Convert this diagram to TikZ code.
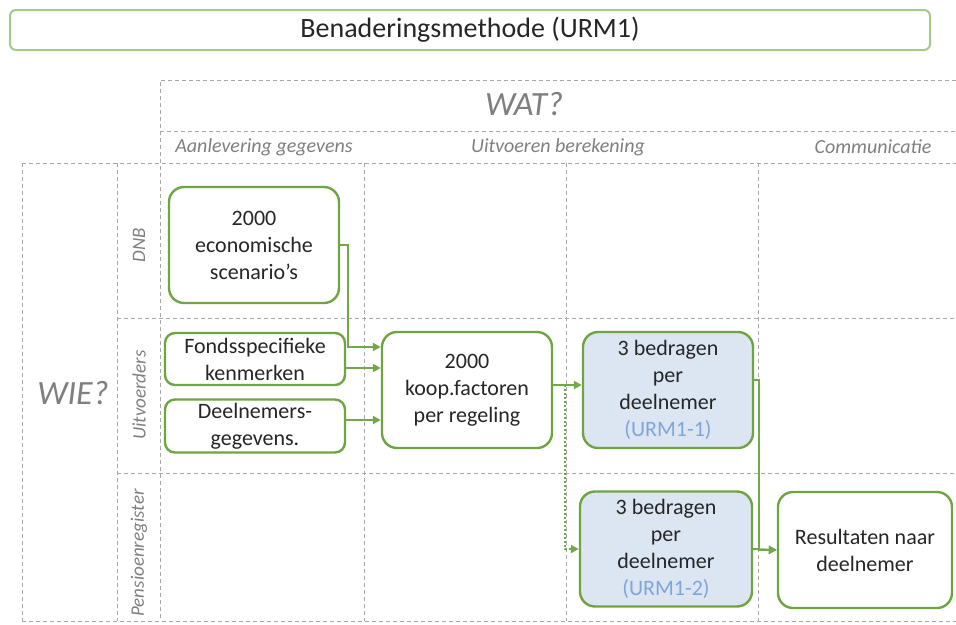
\documentclass[tikz,border=0pt]{standalone}
\usepackage{fontspec}
\setmainfont{Carlito}
\usetikzlibrary{arrows.meta}
\definecolor{gline}{HTML}{72A84A}
\definecolor{gbord}{HTML}{6FA443}
\definecolor{tbord}{HTML}{A6C88A}
\definecolor{bfill}{HTML}{DCE6F2}
\definecolor{txt}{HTML}{262626}
\definecolor{hdr}{HTML}{7F7F7F}
\definecolor{urmc}{HTML}{7FA6DA}
\definecolor{grid}{HTML}{A8A8A8}
\tikzset{
  box/.style={draw=gbord, line width=2.4pt, rounded corners=15pt, fill=white,
    align=center, text=txt, inner sep=2pt, font=\fontsize{22}{27}\selectfont},
  bluebox/.style={box, fill=bfill},
  arr/.style={draw=gline, line width=2pt, -{Triangle[width=8pt,length=8pt]}},
  dotarr/.style={draw=gline, line width=2pt, dotted, -{Triangle[width=8pt,length=8pt]}},
  gridline/.style={draw=grid, line width=0.9pt, dash pattern=on 4pt off 3pt},
  hdrbig/.style={text=hdr, font=\itshape\fontsize{34}{40}\selectfont},
  hdrsmall/.style={text=hdr, font=\itshape\fontsize{20}{24}\selectfont},
  role/.style={text=hdr, rotate=90, font=\itshape\fontsize{19}{22}\selectfont}
}
\begin{document}
\begin{tikzpicture}[x=1pt,y=-1pt]
\useasboundingbox (0,0) rectangle (956,624);
% title
\node[draw=tbord, line width=2pt, rounded corners=6pt, minimum width=920pt, minimum height=40pt,
  text=txt, font=\fontsize{28}{32}\selectfont] (title) at (470,30) {Benaderingsmethode (URM1)};
% grid
\draw[gridline] (956,80) -- (160,80) -- (160,621);
\draw[gridline] (160,131) -- (956,131);
\draw[gridline] (22,163) -- (956,163);
\draw[gridline] (22,163) -- (22,621);
\draw[gridline] (117,163) -- (117,621);
\draw[gridline] (364,163) -- (364,621);
\draw[gridline] (566,163) -- (566,621);
\draw[gridline] (758,163) -- (758,621);
\draw[gridline] (117,318) -- (956,318);
\draw[gridline] (117,473) -- (956,473);
\draw[gridline] (22,621) -- (956,621);
% headers
\node[hdrbig] (wat) at (524,104) {WAT?};
\node[hdrbig] (wie) at (73,393) {WIE?};
\node[hdrsmall] (h1) at (264,147) {Aanlevering gegevens};
\node[hdrsmall] (h2) at (558,147) {Uitvoeren berekening};
\node[hdrsmall] (h3) at (873,147) {Communicatie};
\node[role] (r1) at (139,245) {DNB};
\node[role] (r2) at (139,395) {Uitvoerders};
\node[role] (r3) at (139,553) {Pensioenregister};
% nodes
\node[box, minimum width=170pt, minimum height=116pt] (eco) at (254,245) {2000\\economische\\scenario’s};
\node[box, minimum width=180pt, minimum height=52pt, rounded corners=10pt] (fonds) at (255,359) {Fondsspecifieke\\kenmerken};
\node[box, minimum width=180pt, minimum height=53pt, rounded corners=10pt] (deel) at (255,426) {Deelnemers-\\gegevens.};
\node[box, minimum width=170pt, minimum height=116pt] (koop) at (467,390) {2000\\koop.factoren\\per regeling};
\node[bluebox, minimum width=170pt, minimum height=116pt] (u1) at (668,390) {3 bedragen\\per\\deelnemer\\{\color{urmc}(URM1-1)}};
\node[bluebox, minimum width=172pt, minimum height=115pt] (u2) at (666,549) {3 bedragen\\per\\deelnemer\\{\color{urmc}(URM1-2)}};
\node[box, minimum width=174pt, minimum height=116pt] (res) at (865,550) {Resultaten naar\\deelnemer};
% connectors
\coordinate (c1) at (348,245);
\draw[arr] (eco.east) -- (c1) |- (koop.west |- 0,347);
\draw[arr] (fonds.east |- 0,368) -- (koop.west |- 0,368);
\draw[arr] (deel.east |- 0,420) -- (koop.west |- 0,420);
\draw[arr] (koop.east |- 0,385) -- (u1.west |- 0,385);
\coordinate (split) at (565,385);
\draw[dotarr] (split) |- (u2.west);
\coordinate (c2) at (759,380);
\draw[arr] (u1.east |- c2) -- (c2) |- (res.west);
\draw[arr] (u2.east) -- (res.west);
\end{tikzpicture}
\end{document}
